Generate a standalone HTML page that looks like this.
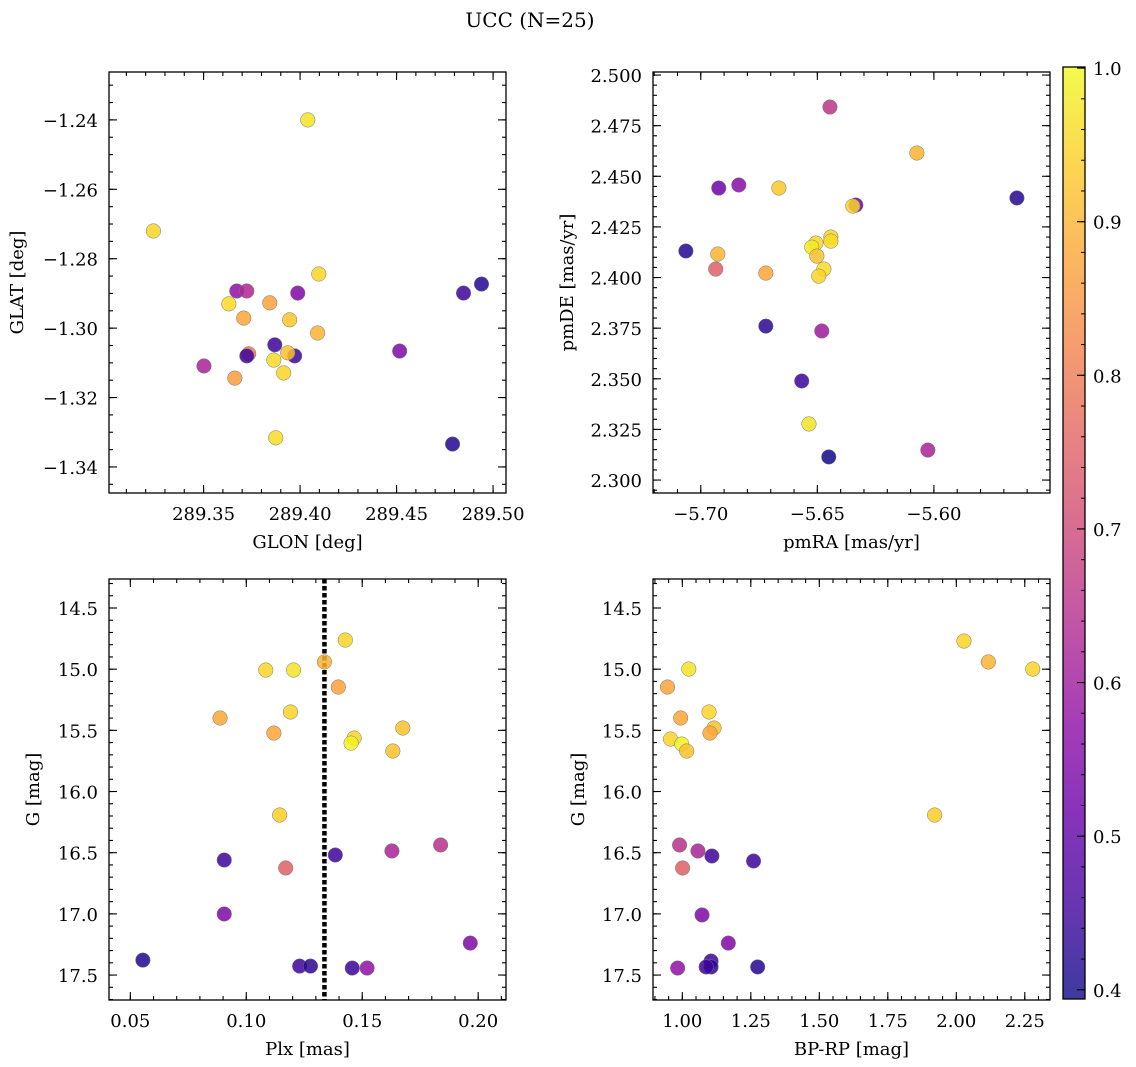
<!DOCTYPE html>
<html><head><meta charset="utf-8"><style>
body{margin:0;background:#fff;}
svg{display:block;font-family:"DejaVu Serif","Liberation Serif",serif;}
</style></head><body>
<svg id="fig" width="1136" height="1067" viewBox="0 0 1136 1067" xmlns="http://www.w3.org/2000/svg">
<text x="530" y="27" font-size="20" text-anchor="middle">UCC (N=25)</text>
<defs><linearGradient id="plasma" x1="0" y1="1" x2="0" y2="0">
<stop offset="0" stop-color="#0d0887"/><stop offset="0.1" stop-color="#41049d"/><stop offset="0.2" stop-color="#6a00a8"/><stop offset="0.3" stop-color="#8f0da4"/><stop offset="0.4" stop-color="#b12a90"/><stop offset="0.5" stop-color="#cc4778"/><stop offset="0.6" stop-color="#e16462"/><stop offset="0.7" stop-color="#f2844b"/><stop offset="0.8" stop-color="#fca636"/><stop offset="0.9" stop-color="#fcce25"/><stop offset="1" stop-color="#f0f921"/></linearGradient></defs>
<rect x="1063" y="67" width="22" height="932" fill="url(#plasma)" opacity="0.8"/>
<rect x="1063" y="67" width="22" height="932" fill="none" stroke="#000" stroke-width="1.3"/>
</svg>
<script>
// ---- data ----
const glon=[289.404,289.324,289.4097,289.494,289.4847,289.3672,289.3724,289.3988,289.3843,289.3631,289.3708,289.3946,289.4091,289.3869,289.4516,289.3734,289.3724,289.3972,289.3936,289.3502,289.3864,289.3915,289.3662,289.3874,289.479];
const glat=[-1.240,-1.272,-1.2844,-1.2873,-1.2899,-1.2893,-1.2893,-1.2899,-1.2927,-1.293,-1.2971,-1.2976,-1.3014,-1.3048,-1.3066,-1.3074,-1.308,-1.308,-1.3071,-1.3109,-1.3092,-1.3129,-1.3144,-1.3316,-1.3334];
const probA=[0.97,0.95,0.95,0.42,0.45,0.58,0.63,0.55,0.87,0.96,0.88,0.93,0.9,0.45,0.55,0.8,0.45,0.45,0.92,0.62,0.96,0.95,0.86,0.96,0.42];
const pmra=[-5.6446,-5.6073,-5.6923,-5.6837,-5.6665,-5.5644,-5.6335,-5.6348,-5.6442,-5.6442,-5.6506,-5.6524,-5.7064,-5.6927,-5.6502,-5.6936,-5.6472,-5.6721,-5.6494,-5.6721,-5.6481,-5.6567,-5.6536,-5.6026,-5.6451];
const pmde=[2.4842,2.4615,2.4442,2.4457,2.4442,2.4393,2.4358,2.4353,2.420,2.418,2.417,2.415,2.4131,2.4116,2.4106,2.4042,2.4042,2.4022,2.4007,2.376,2.3736,2.3489,2.3277,2.3148,2.3114];
const probB=[0.66,0.9,0.52,0.57,0.93,0.42,0.52,0.95,0.95,0.96,0.95,0.98,0.42,0.9,0.92,0.75,0.96,0.88,0.95,0.43,0.6,0.45,0.97,0.62,0.4];
const plx=[0.1427,0.1337,0.1084,0.1204,0.1397,0.1191,0.0887,0.1675,0.1119,0.1465,0.1452,0.1632,0.1144,0.1838,0.1628,0.1384,0.0905,0.117,0.0905,0.1966,0.0554,0.123,0.1277,0.1457,0.1521];
const gmagC=[14.762,14.941,15.007,15.007,15.146,15.35,15.399,15.481,15.522,15.563,15.604,15.669,16.192,16.437,16.486,16.519,16.56,16.625,17.001,17.239,17.378,17.427,17.427,17.443,17.443];
const probC=[0.95,0.9,0.95,0.97,0.87,0.95,0.88,0.92,0.88,0.95,0.99,0.92,0.94,0.65,0.62,0.45,0.45,0.75,0.55,0.55,0.42,0.45,0.43,0.45,0.58];
const bprp=[2.028,2.279,2.117,1.0236,0.946,1.0975,0.994,1.1159,1.101,0.957,0.998,1.016,1.921,0.990,1.057,1.108,1.26,1.001,1.072,1.168,1.275,1.105,1.105,1.087,0.983];
const gmagD=[14.77,14.999,14.941,14.999,15.146,15.35,15.399,15.481,15.522,15.571,15.612,15.669,16.192,16.437,16.486,16.527,16.568,16.625,17.009,17.239,17.434,17.386,17.434,17.434,17.443];
const probD=[0.95,0.95,0.9,0.97,0.87,0.95,0.88,0.92,0.88,0.95,0.99,0.92,0.94,0.65,0.62,0.45,0.45,0.75,0.55,0.55,0.42,0.45,0.43,0.45,0.58];
const plxMedian=0.1337;
const cbTicks=[0.4,0.5,0.6,0.7,0.8,0.9,1.0];

const NS="http://www.w3.org/2000/svg";
const svg=document.getElementById('fig');
function mk(tag,attrs,parent){const e=document.createElementNS(NS,tag);for(const k in attrs)e.setAttribute(k,attrs[k]);(parent||svg).appendChild(e);return e;}
const stops=[[0,[13,8,135]],[.1,[65,4,157]],[.2,[106,0,168]],[.3,[143,13,164]],[.4,[177,42,144]],[.5,[204,71,120]],[.6,[225,100,98]],[.7,[242,132,75]],[.8,[252,166,54]],[.9,[252,206,37]],[1,[240,249,33]]];
const CMIN=0.394,CMAX=1.0007;
function cmap(v){let t=(v-CMIN)/(CMAX-CMIN);t=Math.max(0,Math.min(1,t));for(let i=0;i<stops.length-1;i++){const a=stops[i],b=stops[i+1];if(t<=b[0]){const f=(t-a[0])/(b[0]-a[0]);const c=a[1].map((x,j)=>Math.round(x+(b[1][j]-x)*f));return `rgb(${c})`;}}return 'rgb(240,249,33)';}
function fmt(v,d){const s=Math.abs(v).toFixed(d);return (v<-1e-9?'\u2212':'')+s;}

function panel(o){
  const {name,x0,x1,y0,y1,L,R,T,B}=o;
  const sx=v=>L+(v-x0)/(x1-x0)*(R-L);
  const sy=v=>T+(v-y1)/(y0-y1)*(B-T);
  const g=mk('g',{});
  
  
  function ticks(step,a,b,axis,len,lab,dec){
    const lo=Math.min(a,b),hi=Math.max(a,b);
    const n0=Math.ceil(lo/step-1e-6),n1=Math.floor(hi/step+1e-6);
    for(let n=n0;n<=n1;n++){const v=n*step;
      if(axis==='x'){const p=sx(v);
        mk('line',{x1:p,x2:p,y1:B,y2:B-len,stroke:'#000','stroke-width':1.1},g);
        mk('line',{x1:p,x2:p,y1:T,y2:T+len,stroke:'#000','stroke-width':1.1},g);
        if(lab){const t=mk('text',{x:p,y:B+27,'font-size':18,'text-anchor':'middle'},g);t.textContent=fmt(v,dec);
          
          }
      }else{const p=sy(v);
        mk('line',{x1:L,x2:L+len,y1:p,y2:p,stroke:'#000','stroke-width':1.1},g);
        mk('line',{x1:R,x2:R-len,y1:p,y2:p,stroke:'#000','stroke-width':1.1},g);
        if(lab){const t=mk('text',{x:L-11,y:p+7,'font-size':18,'text-anchor':'end'},g);t.textContent=fmt(v,dec);
          
          }
      }}
  }
  ticks(o.xmaj,x0,x1,'x',8,true,o.xd);
  ticks(o.xmin,x0,x1,'x',4,false);
  ticks(o.ymaj,y0,y1,'y',8,true,o.yd);
  ticks(o.ymin,y0,y1,'y',4,false);
  if(o.vline!==undefined){const l=mk('line',{x1:sx(o.vline),x2:sx(o.vline),y1:T,y2:B,stroke:'#000','stroke-width':4.5,'stroke-dasharray':'4.5 2.5'},g);
    
    }
  o.xs.forEach((xv,i)=>{const c=mk('circle',{cx:sx(xv),cy:sy(o.ys[i]),r:7.3,fill:cmap(o.cs[i]),'fill-opacity':0.85,stroke:'#777','stroke-width':0.5},g);
    
    });
  mk('rect',{x:L,y:T,width:R-L,height:B-T,fill:'none',stroke:'#000','stroke-width':1.3},g);
  const xl=mk('text',{x:(L+R)/2,y:B+55,'font-size':18,'text-anchor':'middle'},g);xl.textContent=o.xlab;
  
  
  const yl=mk('text',{x:0,y:0,'font-size':18,'text-anchor':'middle',transform:`translate(${o.ylx},${(T+B)/2}) rotate(-90)`},g);yl.textContent=o.ylab;
  
  
}
panel({name:'glon-glat-panel',x0:289.301,x1:289.5067,y0:-1.3475,y1:-1.2262,L:109,R:506,T:72,B:493,xmaj:0.05,xmin:0.01,ymaj:0.02,ymin:0.005,xd:2,yd:2,xs:glon,ys:glat,cs:probA,xlab:'GLON [deg]',ylab:'GLAT [deg]',ylx:23});
panel({name:'pm-panel',x0:-5.7205,x1:-5.5502,y0:2.2936,y1:2.5015,L:653,R:1050,T:72,B:493,xmaj:0.05,xmin:0.01,ymaj:0.025,ymin:0.005,xd:2,yd:3,xs:pmra,ys:pmde,cs:probB,xlab:'pmRA [mas/yr]',ylab:'pmDE [mas/yr]',ylx:573});
panel({name:'plx-g-panel',x0:0.0408,x1:0.212,y0:17.704,y1:14.263,L:109,R:506,T:579,B:1000,xmaj:0.05,xmin:0.01,ymaj:0.5,ymin:0.1,xd:2,yd:1,xs:plx,ys:gmagC,cs:probC,xlab:'Plx [mas]',ylab:'G [mag]',ylx:39,vline:plxMedian});
panel({name:'cmd-panel',x0:0.893,x1:2.342,y0:17.704,y1:14.263,L:653,R:1050,T:579,B:1000,xmaj:0.25,xmin:0.05,ymaj:0.5,ymin:0.1,xd:2,yd:1,xs:bprp,ys:gmagD,cs:probD,xlab:'BP-RP [mag]',ylab:'G [mag]',ylx:584});
const cy=v=>67+(CMAX-v)/(CMAX-CMIN)*932;
cbTicks.forEach(v=>{const t=mk('text',{x:1093,y:cy(v)+7,'font-size':18},svg);t.textContent=v.toFixed(1);
  
  
  mk('line',{x1:1085,x2:1077,y1:cy(v),y2:cy(v),stroke:'#000','stroke-width':1.1});});
for(let v=0.4;v<=1.0001;v+=0.02){mk('line',{x1:1085,x2:1081,y1:cy(v),y2:cy(v),stroke:'#000','stroke-width':1});}
</script>
</body></html>
